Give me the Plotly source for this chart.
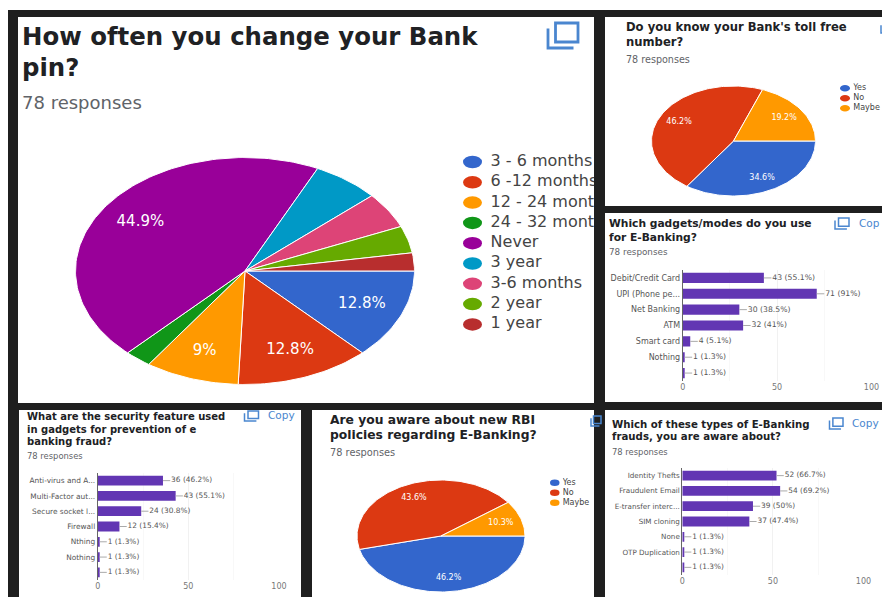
import numpy as np
import plotly.graph_objects as go

W, H = 882, 597
DARK = "#1f1f1f"
INK = "#202124"
GREY = "#5f6368"
BAR = "#6236b3"
ICON = "#4a86cf"
FONT = "DejaVu Sans"

# Survey data
pin_labels = ["3 - 6 months", "6 -12 months", "12 - 24 months", "24 - 32 months", "Never",
              "3 year", "3-6 months", "2 year", "1 year"]
pin_counts = [10, 10, 7, 2, 35, 5, 4, 3, 2]
pin_text = ["12.8%", "12.8%", "9%", "", "44.9%", "", "", "", ""]
pin_colors = ["#3366cc", "#dc3912", "#ff9900", "#109618", "#990099",
              "#0099c6", "#dd4477", "#66aa00", "#b82e2e"]

yes_no = ["Yes", "No", "Maybe"]
yes_no_colors = ["#3366cc", "#dc3912", "#ff9900"]
toll_counts = [27, 36, 15]
toll_text = ["34.6%", "46.2%", "19.2%"]
rbi_counts = [36, 34, 8]
rbi_text = ["46.2%", "43.6%", "10.3%"]

gadget_labels = ["Debit/Credit Card", "UPI (Phone pe...", "Net Banking", "ATM", "Smart card", "Nothing", ""]
gadget_counts = [43, 71, 30, 32, 4, 1, 1]
gadget_pct = ["55.1", "91", "38.5", "41", "5.1", "1.3", "1.3"]

security_labels = ["Anti-virus and A...", "Multi-Factor aut...", "Secure socket l...", "Firewall", "Nthing", "Nothing", ""]
security_counts = [36, 43, 24, 12, 1, 1, 1]
security_pct = ["46.2", "55.1", "30.8", "15.4", "1.3", "1.3", "1.3"]

fraud_labels = ["Identity Thefts", "Fraudulent Email", "E-transfer interc...", "SIM cloning", "None", "OTP Duplication", ""]
fraud_counts = [52, 54, 39, 37, 1, 1, 1]
fraud_pct = ["66.7", "69.2", "50", "47.4", "1.3", "1.3", "1.3"]

fig = go.Figure()
shapes, notes, axes = [], [], {}
axis_no = [0]


def px(x):
    return x / W


def py(y):
    return 1 - y / H


def new_axes(x0, x1, y0, y1):
    """Reserve an x/y axis pair on a pixel box of the page."""
    axis_no[0] += 1
    n = axis_no[0]
    suffix = "" if n == 1 else str(n)
    hidden = dict(visible=False, fixedrange=True, automargin=False)
    axes[f"xaxis{suffix}"] = dict(domain=[px(x0), px(x1)], anchor=f"y{suffix}", **hidden)
    axes[f"yaxis{suffix}"] = dict(domain=[py(y1), py(y0)], anchor=f"x{suffix}", **hidden)
    return f"x{suffix}", f"y{suffix}", f"xaxis{suffix}", f"yaxis{suffix}"


def rect(x0, y0, x1, y1, color):
    shapes.append(dict(type="rect", xref="paper", yref="paper", layer="below",
                       x0=px(x0), x1=px(x1), y0=py(y0), y1=py(y1),
                       fillcolor=color, line_width=0))


def note(x, y, text, size, color, bold=False):
    notes.append(dict(xref="paper", yref="paper", x=px(x), y=py(y), text=f"<b>{text}</b>" if bold else text,
                      showarrow=False, xanchor="left", yanchor="middle", align="left",
                      xshift=-2, font=dict(family=FONT, size=size, color=color)))


def heading(x, ys, lines, size, resp_y, resp_size):
    for y, line in zip(ys, lines):
        note(x, y, line, size, INK, bold=True)
    note(x, resp_y, "78 responses", resp_size, GREY)


def copy_icon(x0, y0, w, h, stroke):
    """Two overlapping rounded squares, the usual copy glyph."""
    fx0, fy1 = x0 + w * 0.25, y0 + h * 0.76
    x1, y1 = x0 + w, y0 + h
    common = dict(xref="paper", yref="paper", layer="below",
                  fillcolor="rgba(0,0,0,0)", line=dict(color=ICON, width=stroke))
    shapes.append(dict(type="rect", x0=px(fx0), x1=px(x1), y0=py(y0), y1=py(fy1), **common))
    path = (f"M {px(x0)},{py(y0 + h * 0.22)} L {px(x0)},{py(y1)} "
            f"L {px(x0 + w * 0.85)},{py(y1)}")
    shapes.append(dict(type="path", path=path, **common))


def add_pie(cx, cy, rx, ry, counts, colors, texts, size):
    """Wedges go clockwise from three o'clock on a box stretched to the oval."""
    xa, ya, xname, yname = new_axes(cx - rx, cx + rx, cy - ry, cy + ry)
    axes[xname]["range"] = [-1, 1]
    axes[yname]["range"] = [-1, 1]
    fractions = np.array(counts, dtype=float) / sum(counts)
    edges = np.concatenate([[0], np.cumsum(fractions)]) * 2 * np.pi
    for a0, a1, c in zip(edges[:-1], edges[1:], colors):
        t = np.linspace(a0, a1, max(int((a1 - a0) * 40), 6))
        fig.add_trace(go.Scatter(
            x=np.concatenate([[0], np.cos(t), [0]]), y=np.concatenate([[0], -np.sin(t), [0]]),
            xaxis=xa, yaxis=ya, mode="lines", fill="toself", fillcolor=c,
            line=dict(color="white", width=1), hoverinfo="skip", cliponaxis=False))
    mids = (edges[:-1] + edges[1:]) / 2
    fig.add_trace(go.Scatter(
        x=0.75 * np.cos(mids), y=-0.75 * np.sin(mids), xaxis=xa, yaxis=ya, mode="text",
        text=texts, textposition="middle center",
        textfont=dict(family=FONT, size=size, color="white"), hoverinfo="skip", cliponaxis=False))


def add_legend(dot_x, dot_w, dot_h, text_x, y0, dy, clip_x, labels, colors, size):
    """Oval swatches with names; the names are cut off at the card's right edge."""
    n = len(labels)
    xa, ya, xname, yname = new_axes(text_x, clip_x, y0 - dy / 2, y0 + dy * (n - 0.5))
    axes[xname]["range"] = [0, 1]
    axes[yname]["range"] = [n - 0.5, -0.5]
    fig.add_trace(go.Scatter(
        x=[0] * n, y=list(range(n)), xaxis=xa, yaxis=ya, mode="text", text=labels,
        textposition="middle right", textfont=dict(family=FONT, size=size, color="#444444"),
        hoverinfo="skip", cliponaxis=True))
    for i, c in enumerate(colors):
        yc = y0 + dy * i
        shapes.append(dict(type="circle", xref="paper", yref="paper", layer="below",
                           x0=px(dot_x), x1=px(dot_x + dot_w),
                           y0=py(yc - dot_h / 2), y1=py(yc + dot_h / 2),
                           fillcolor=c, line_width=0))


def add_bars(x0, x100, y0, y1, labels, counts, pct, label_size, value_size):
    xa, ya, xname, yname = new_axes(x0, x100, y0, y1)
    n = len(labels)
    axes[xname].update(visible=True, range=[0, 100], tickvals=[0, 50, 100], showgrid=True,
                       gridcolor="#f1f1f1", gridwidth=1, zeroline=False, showline=False, ticks="",
                       minor=dict(tickvals=[25, 75], showgrid=True, gridcolor="#f8f8f8", ticks=""),
                       tickfont=dict(family=FONT, size=8, color="#777777"))
    axes[yname].update(visible=True, range=[n - 0.5, -0.5], tickvals=list(range(n)), ticktext=labels,
                       showgrid=False, zeroline=False, showline=True, linecolor="#666666", linewidth=1,
                       ticks="", ticklabelstandoff=0,
                       tickfont=dict(family=FONT, size=label_size, color="#555555"))
    fig.add_trace(go.Bar(x=counts, y=list(range(n)), orientation="h", width=0.64,
                         marker=dict(color=BAR, line_width=0), xaxis=xa, yaxis=ya, hoverinfo="skip"))
    lead_x, lead_y = [], []
    for i, v in enumerate(counts):
        lead_x += [v, v + 4, None]
        lead_y += [i, i, None]
    fig.add_trace(go.Scatter(x=lead_x, y=lead_y, xaxis=xa, yaxis=ya, mode="lines",
                             line=dict(color="#aaaaaa", width=1), hoverinfo="skip"))
    fig.add_trace(go.Scatter(
        x=[v + 4.5 for v in counts], y=list(range(n)), xaxis=xa, yaxis=ya, mode="text",
        text=[f"{v} ({p}%)" for v, p in zip(counts, pct)], textposition="middle right",
        textfont=dict(family=FONT, size=value_size, color="#555555"), hoverinfo="skip", cliponaxis=False))


# Page backdrop and the six white cards
rect(8, 10, W, H, DARK)
rect(18, 17, 594, 403, "white")
rect(605, 17, W, 206, "white")
rect(605, 213, W, 402, "white")
rect(19, 410, 301, H, "white")
rect(312, 410, 594, H, "white")
rect(605, 410, W, H, "white")

# Pin-change card
heading(22, [36.7, 67.3], ["How often you change your Bank", "pin?"], 24.4, 102.3, 18)
copy_icon(548, 23, 30, 25, 2.8)
add_pie(245, 271, 169.5, 113.5, pin_counts, pin_colors, pin_text, 15)
add_legend(463, 19, 12.5, 490.6, 162, 20.3, 594, pin_labels, pin_colors, 16)

# Toll-free card
heading(625.7, [27, 42.3], ["Do you know your Bank's toll free", "number?"], 11.6, 59.3, 9.6)
copy_icon(881, 23, 10, 10, 1.5)
add_pie(733.5, 141, 82, 55, toll_counts, yes_no_colors, toll_text, 8)
add_legend(840, 10, 6.5, 853.3, 88.3, 10, W, yes_no, yes_no_colors, 8)

# Gadgets card
heading(609, [224, 237.3], ["Which gadgets/modes do you use", "for E-Banking?"], 10.7, 252.3, 8.8)
copy_icon(835, 218, 14, 11, 1.5)
note(859, 223, "Cop", 10.5, ICON)
add_bars(682.7, 871.5, 270, 381, gadget_labels, gadget_counts, gadget_pct, 8, 7.7)

# Security-feature card
heading(27.3, [416, 429, 441.7], ["What are the security feature used", "in gadgets for prevention of e", "banking fraud?"],
        10, 456.3, 8.4)
copy_icon(244.5, 411, 14, 10, 1.5)
note(267.7, 415, "Copy", 10.5, ICON)
add_bars(97.7, 279, 473, 580, security_labels, security_counts, security_pct, 7.4, 7.4)

# RBI policies card
heading(330, [420, 435.3], ["Are you aware about new RBI", "policies regarding E-Banking?"], 12.3, 452.7, 9.8)
copy_icon(591, 416, 10, 10, 1.5)
add_pie(441, 536, 84, 56, rbi_counts, yes_no_colors, rbi_text, 8)
add_legend(550, 9.5, 6.5, 562.7, 482.7, 10, 594, yes_no, yes_no_colors, 8)

# Fraud-awareness card
heading(611.7, [424, 436.7], ["Which of these types of E-Banking", "frauds, you are aware about?"], 10.2, 451.7, 8.4)
copy_icon(829.5, 418, 13.5, 11, 1.5)
note(852, 423, "Copy", 10.5, ICON)
add_bars(682.3, 863.5, 468, 575, fraud_labels, fraud_counts, fraud_pct, 7.2, 7.4)

fig.update_layout(
    width=W, height=H, autosize=False, margin=dict(l=0, r=0, t=0, b=0, pad=0, autoexpand=False),
    paper_bgcolor="white", plot_bgcolor="rgba(0,0,0,0)", showlegend=False,
    barmode="overlay", shapes=shapes, annotations=notes, **axes,
)
fig.write_html("out.html", config=dict(displayModeBar=False))
